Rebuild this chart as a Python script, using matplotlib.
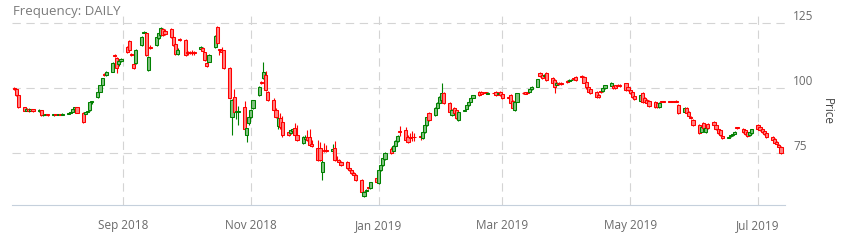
import matplotlib
matplotlib.use('Agg')
import numpy as np
import pandas as pd
import matplotlib.pyplot as plt
import matplotlib.dates as mdates

plt.rcParams['font.family'] = ['Open Sans', 'DejaVu Sans']
plt.rcParams['lines.scale_dashes'] = False

# daily OHLC, one line per trading week (first week starts Wed 2018-07-11)
open_px = [
    99.9, 99.5, 97.3,
    92.6, 91.4, 92.0, 91.3, 91.8,
    91.2, 91.5, 89.6, 89.8, 90.0,
    89.6, 89.9, 89.7, 90.0, 89.8,
    90.2, 90.6, 91.0, 91.8, 92.6,
    90.6, 89.9, 90.7, 91.5, 94.5,
    96.5, 98.6, 101.1, 105.2, 105.0,
    106.2, 112.6, 111.4, 109.0, 110.3,
    115.6, 118.0, 112.8, 109.0, 109.6,
    116.5, 121.2, 121.0, 107.0, 115.5,
    116.5, 119.2, 120.2, 122.6, 121.8,
    122.5, 119.6, 117.0, 113.1, 118.5,
    118.2, 113.6, 113.5, 113.6, 113.5,
    114.8, 115.4, 113.6, 109.4, 110.0,
    115.6, 123.3, 114.8, 114.5, 114.4,
    107.6, 89.0, 96.6, 90.7, 91.0,
    92.7, 82.0, 86.6, 89.0, 92.4,
    97.3, 102.2, 103.8, 105.0, 98.5,
    95.4, 91.6, 85.4, 88.5, 87.0,
    83.2, 82.8, 83.6, 84.7, 82.1,
    79.0, 80.6, 81.3, 81.3, 78.5,
    77.2, 77.0, 67.9, 76.2, 76.3,
    76.0, 77.0, 72.5, 72.6, 71.8,
    71.8, 69.5, 68.7, 67.5, 66.8,
    64.9, 58.9, 60.5, 61.9, 61.8,
    65.6, 63.7, 68.7, 70.6, 73.0,
    76.7, 76.0, 77.9, 79.8, 83.3,
    84.0, 81.3, 81.2, 81.4, 81.3,
    81.5, 80.9, 83.2, 85.9, 90.5,
    89.7, 92.4, 94.3, 95.4, 98.0,
    94.3, 89.7, 92.4, 91.6, 87.8,
    91.4, 92.0, 93.5, 94.7, 96.2,
    98.5, 98.4, 98.2, 98.3, 97.8,
    98.2, 98.4, 97.8, 98.5, 97.7,
    96.6, 97.3, 95.0, 91.6, 94.7,
    98.2, 98.3, 98.2, 98.5, 99.6,
    100.4, 105.7, 105.0, 104.6, 105.7,
    103.8, 103.0, 101.2, 102.0, 101.8,
    102.5, 102.6, 103.0, 103.6, 104.2,
    104.6, 104.2, 102.3, 100.4, 99.6,
    98.5, 97.4, 98.6, 98.8, 100.0,
    100.8, 100.8, 101.0, 101.2, 101.3,
    101.8, 100.4, 99.4, 98.5, 96.8,
    95.0, 98.0, 96.2, 95.5, 95.0,
    94.7, 94.3, 92.7, 94.9, 94.9,
    94.9, 94.9, 94.9, 95.2, 93.5,
    90.8, 92.4, 90.8, 89.0, 87.8,
    85.9, 83.2, 86.6, 83.2, 86.3,
    87.0, 85.9, 84.3, 84.0, 81.7,
    81.0, 81.5, 82.0, 82.6, 84.9,
    84.3, 84.0, 83.2, 82.0, 82.8,
    85.9, 85.1, 84.3, 83.6, 82.8,
    81.3, 80.6, 79.4, 78.4, 77.5,
]
high_px = [
    100.3, 99.8, 97.5,
    92.9, 92.3, 92.2, 92.0, 92.0,
    91.8, 91.6, 90.0, 90.2, 90.1,
    90.1, 90.0, 90.2, 90.1, 90.4,
    90.8, 91.2, 92.0, 92.9, 92.8,
    90.8, 91.0, 91.4, 94.8, 95.2,
    98.9, 101.3, 104.0, 105.6, 106.5,
    109.8, 113.0, 112.0, 110.6, 111.4,
    116.0, 118.4, 113.3, 109.4, 114.8,
    120.0, 121.8, 121.3, 112.2, 116.3,
    119.9, 121.3, 123.4, 123.0, 122.4,
    122.9, 119.9, 117.4, 115.2, 119.0,
    118.6, 114.0, 114.0, 114.4, 114.2,
    116.0, 115.8, 113.9, 109.8, 112.9,
    120.3, 123.6, 115.0, 115.8, 114.7,
    108.0, 95.8, 99.5, 91.6, 93.0,
    95.0, 84.9, 89.2, 91.8, 95.6,
    100.6, 102.6, 110.0, 106.4, 99.0,
    96.0, 92.4, 90.0, 90.4, 89.4,
    84.0, 84.4, 84.6, 86.8, 86.0,
    81.8, 82.0, 84.0, 84.5, 80.0,
    80.0, 79.5, 72.4, 79.0, 78.4,
    78.6, 79.8, 74.0, 73.0, 72.2,
    72.0, 69.8, 69.0, 67.8, 67.1,
    65.3, 60.6, 61.4, 62.3, 64.2,
    66.0, 68.9, 70.8, 73.5, 75.4,
    77.3, 78.1, 80.0, 81.9, 85.5,
    85.0, 82.0, 83.0, 83.4, 82.8,
    83.0, 83.4, 86.1, 89.1, 90.9,
    92.6, 94.5, 96.8, 102.0, 98.4,
    94.6, 91.9, 92.8, 92.0, 91.0,
    91.9, 93.7, 94.9, 96.4, 97.5,
    98.8, 98.8, 98.5, 98.6, 98.4,
    98.6, 98.8, 98.2, 98.8, 98.0,
    97.0, 97.6, 95.4, 94.9, 98.2,
    98.5, 98.6, 98.6, 99.7, 100.6,
    103.6, 106.0, 105.3, 105.4, 106.0,
    104.1, 103.4, 102.3, 102.3, 102.2,
    102.9, 103.3, 103.5, 103.9, 104.5,
    105.0, 104.5, 102.6, 100.8, 99.9,
    98.8, 97.8, 98.9, 100.3, 101.3,
    102.2, 101.1, 101.3, 101.5, 101.6,
    102.1, 100.7, 99.7, 98.8, 97.1,
    97.6, 98.3, 96.5, 95.8, 95.3,
    95.0, 94.6, 94.6, 95.2, 95.1,
    95.2, 95.1, 95.2, 95.5, 93.8,
    92.6, 92.7, 91.1, 89.3, 88.1,
    86.2, 85.3, 86.9, 84.9, 86.6,
    87.3, 86.2, 84.6, 84.3, 82.0,
    81.6, 82.1, 82.7, 83.4, 85.2,
    84.6, 84.3, 83.5, 83.4, 84.5,
    86.2, 85.4, 84.6, 83.9, 83.1,
    81.6, 80.9, 79.7, 78.7, 77.8,
]
low_px = [
    99.2, 96.9, 92.5,
    91.2, 91.2, 91.0, 91.1, 91.0,
    90.8, 89.3, 89.3, 89.6, 89.4,
    89.4, 89.5, 89.6, 89.6, 89.7,
    90.0, 90.4, 90.8, 91.5, 90.3,
    86.5, 89.6, 90.5, 91.3, 94.0,
    96.3, 98.4, 100.9, 104.6, 104.6,
    106.0, 112.0, 105.6, 108.6, 109.8,
    113.4, 114.2, 112.2, 107.4, 109.2,
    116.2, 120.9, 112.3, 106.6, 114.8,
    116.2, 118.9, 120.0, 119.8, 120.3,
    119.2, 116.2, 112.7, 112.5, 117.9,
    112.3, 112.8, 112.9, 112.6, 112.8,
    114.5, 114.0, 110.4, 108.2, 109.8,
    115.3, 116.8, 112.5, 113.4, 107.3,
    95.8, 82.0, 90.4, 88.0, 86.0,
    82.5, 79.5, 86.0, 88.6, 92.0,
    97.0, 101.4, 103.4, 98.8, 95.0,
    91.3, 88.6, 84.2, 84.5, 81.2,
    81.5, 82.4, 83.3, 81.6, 79.8,
    78.6, 80.3, 79.8, 77.8, 77.6,
    72.0, 72.2, 64.9, 75.6, 75.4,
    75.6, 72.2, 72.0, 71.6, 70.2,
    69.2, 68.4, 67.2, 66.5, 64.6,
    60.0, 58.5, 60.1, 61.5, 61.6,
    63.8, 63.4, 68.4, 70.3, 72.6,
    74.9, 75.7, 77.6, 79.5, 81.8,
    79.8, 79.0, 79.6, 79.8, 79.6,
    80.0, 80.6, 82.9, 85.6, 87.5,
    89.4, 92.1, 94.0, 95.1, 94.0,
    90.5, 89.4, 90.2, 88.2, 87.5,
    91.2, 91.8, 93.3, 94.5, 96.0,
    97.0, 97.6, 97.6, 97.7, 97.6,
    97.8, 97.0, 97.6, 97.0, 95.9,
    95.8, 94.0, 92.0, 91.3, 94.5,
    97.7, 97.6, 97.7, 98.3, 99.4,
    100.2, 104.3, 103.5, 104.2, 102.8,
    101.7, 98.0, 101.0, 101.2, 101.3,
    102.1, 102.4, 102.8, 103.1, 102.8,
    104.0, 101.8, 99.8, 98.3, 97.8,
    96.3, 96.0, 98.2, 98.5, 99.7,
    100.6, 99.7, 99.7, 100.6, 100.5,
    99.0, 98.9, 97.6, 96.3, 95.6,
    94.7, 94.4, 94.4, 93.8, 92.8,
    92.4, 92.4, 92.4, 94.5, 94.5,
    94.5, 94.5, 94.5, 94.6, 90.2,
    90.5, 90.2, 89.0, 88.3, 85.6,
    82.5, 82.9, 84.4, 82.9, 84.4,
    85.6, 84.0, 82.5, 81.7, 80.6,
    80.8, 81.3, 81.8, 82.4, 84.4,
    82.9, 82.1, 81.4, 81.7, 82.5,
    84.0, 83.7, 82.9, 82.1, 81.0,
    79.9, 78.7, 78.2, 77.0, 74.9,
]
close_px = [
    99.5, 97.3, 92.8,
    91.4, 92.0, 91.3, 91.8, 91.2,
    91.5, 89.6, 89.8, 90.0, 89.6,
    89.9, 89.7, 90.0, 89.8, 90.2,
    90.6, 91.0, 91.8, 92.6, 90.6,
    86.9, 90.7, 91.2, 94.5, 94.9,
    98.6, 101.1, 103.8, 104.9, 106.2,
    109.5, 112.4, 107.6, 110.3, 111.0,
    113.7, 114.5, 112.6, 107.8, 114.5,
    119.6, 121.4, 112.6, 111.8, 115.2,
    119.6, 121.0, 123.0, 120.3, 120.6,
    119.6, 116.6, 113.1, 114.4, 118.3,
    112.6, 113.2, 113.3, 113.4, 113.4,
    115.6, 114.3, 110.8, 108.5, 112.6,
    120.0, 117.2, 114.5, 113.8, 107.6,
    96.2, 95.4, 90.8, 91.2, 91.4,
    84.2, 84.7, 89.0, 91.6, 95.4,
    100.4, 102.0, 106.0, 99.2, 95.4,
    91.6, 89.0, 88.5, 85.1, 82.2,
    82.1, 84.0, 84.2, 82.0, 80.2,
    81.3, 81.2, 80.2, 78.2, 78.0,
    72.5, 72.6, 71.8, 76.0, 75.9,
    76.6, 72.5, 72.4, 71.8, 70.5,
    69.5, 68.7, 67.5, 66.8, 64.9,
    60.3, 60.3, 61.2, 61.8, 64.0,
    64.1, 68.7, 70.6, 73.3, 75.2,
    75.2, 77.9, 79.8, 81.7, 83.2,
    80.2, 79.4, 81.0, 81.2, 81.1,
    81.3, 83.2, 85.9, 88.9, 87.8,
    92.4, 94.3, 96.6, 98.0, 94.3,
    90.8, 91.6, 90.5, 88.5, 90.8,
    91.6, 93.5, 94.7, 96.2, 97.3,
    97.3, 97.9, 98.0, 98.0, 98.2,
    98.0, 97.3, 98.1, 97.3, 96.2,
    96.2, 94.3, 92.4, 94.7, 98.0,
    98.0, 97.9, 98.1, 99.5, 100.4,
    103.4, 104.6, 103.8, 105.0, 103.0,
    102.0, 100.4, 102.0, 101.5, 101.6,
    102.3, 103.0, 103.2, 103.4, 103.0,
    104.3, 102.0, 100.2, 98.6, 98.0,
    96.6, 96.4, 98.5, 100.0, 101.0,
    102.0, 100.0, 100.0, 100.9, 100.8,
    99.3, 99.2, 98.0, 96.6, 95.9,
    97.3, 94.7, 94.7, 94.1, 93.1,
    92.7, 92.7, 94.3, 94.7, 94.7,
    94.7, 94.6, 94.7, 94.8, 90.5,
    92.4, 90.5, 89.3, 88.5, 85.9,
    82.8, 85.1, 84.7, 84.7, 84.7,
    85.9, 84.3, 82.8, 82.0, 80.9,
    81.3, 81.9, 82.5, 83.2, 84.7,
    83.2, 82.4, 81.7, 83.2, 84.3,
    84.3, 84.0, 83.2, 82.4, 81.3,
    80.2, 79.0, 78.5, 77.4, 75.2,
]

ytick_vals = [75, 100, 125]
ytick_labels = ['75', '100', '125']

o = np.array(open_px)
h = np.array(high_px)
l = np.array(low_px)
c = np.array(close_px)
dates = pd.bdate_range('2018-07-11', periods=len(c))
x = mdates.date2num(dates)

up = c >= o
line_col = np.where(up, '#008000', '#ff0000')
fill_col = np.where(up, '#80c080', '#ff8080')

fig = plt.figure(figsize=(8.56, 2.47), dpi=100)
ax = fig.add_axes([12 / 856, 42 / 247, 773 / 856, 190 / 247])

ax.grid(True, color='#d4d4d4', linestyle=(0, (6, 4)), linewidth=0.8, zorder=0)
ax.set_axisbelow(True)

ax.vlines(x, l, h, colors=line_col, linewidth=0.8, zorder=2)
body_h = np.maximum(np.abs(c - o), 0.25)
ax.bar(x, body_h, width=1.5, bottom=np.minimum(o, c), color=fill_col,
       edgecolor=line_col, linewidth=0.75, zorder=3)

ax.set_xlim(mdates.date2num(pd.Timestamp('2018-07-10')),
            mdates.date2num(pd.Timestamp('2019-07-13 22:00')))
ax.set_ylim(55.3, 127.9)

ax.xaxis.set_major_locator(mdates.MonthLocator(bymonth=[1, 3, 5, 7, 9, 11]))
ax.xaxis.set_major_formatter(mdates.DateFormatter('%b %Y'))
ax.tick_params(axis='x', length=0, pad=10, labelsize=8.5, labelcolor='#6a6a6a')

ax.yaxis.tick_right()
ax.set_yticks(ytick_vals)
ax.set_yticklabels(ytick_labels, va='bottom')
ax.tick_params(axis='y', length=0, pad=6, labelsize=8.5, labelcolor='#6a6a6a')

for s in ['top', 'left', 'right']:
    ax.spines[s].set_visible(False)
ax.spines['bottom'].set_color('#c5d0dc')
ax.spines['bottom'].set_linewidth(0.8)

fig.text(827 / 856, 1 - 111 / 247, 'Price', rotation=-90, ha='center', va='center',
         fontsize=8.5, color='#444444')
fig.text(13 / 856, 1 - 12 / 247, 'Frequency: DAILY', ha='left', va='center',
         fontsize=9.5, color='#7a7a7a')

fig.savefig('out.png', dpi=100)
